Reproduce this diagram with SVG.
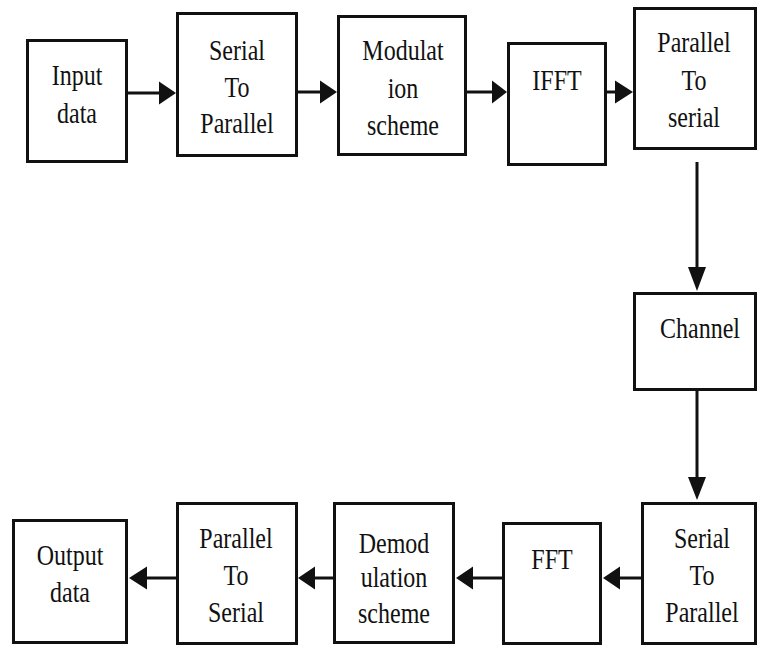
<svg xmlns="http://www.w3.org/2000/svg" width="758" height="646" viewBox="0 0 758 646">
<style>
.box{fill:#fff;stroke:#111;stroke-width:3}
.lbl{font-family:"Liberation Serif","Times New Roman",serif;font-size:30px;fill:#111;text-anchor:middle}
.ln{stroke:#111;stroke-width:3;fill:none}
.hd{fill:#111;stroke:none}
</style>
<rect width="758" height="646" fill="#fff"/>
<g id="input-data"><rect class="box" x="27.5" y="40.5" width="99" height="121"/>
<text class="lbl" transform="translate(77,0) scale(0.8,1)"><tspan x="0" y="85">Input</tspan><tspan x="0" y="123">data</tspan></text></g>
<g id="serial-to-parallel-tx"><rect class="box" x="177.5" y="13.5" width="119" height="142"/>
<text class="lbl" transform="translate(237,0) scale(0.8,1)"><tspan x="0" y="60">Serial</tspan><tspan x="0" y="97">To</tspan><tspan x="0" y="133">Parallel</tspan></text></g>
<g id="modulation"><rect class="box" x="338.5" y="16.5" width="127" height="138"/>
<text class="lbl" transform="translate(403,0) scale(0.8,1)"><tspan x="0" y="60">Modulat</tspan><tspan x="0" y="98">ion</tspan><tspan x="0" y="135">scheme</tspan></text></g>
<g id="ifft"><rect class="box" x="508.5" y="43.5" width="97" height="121"/>
<text class="lbl" transform="translate(557,0) scale(0.8,1)"><tspan x="0" y="90">IFFT</tspan></text></g>
<g id="parallel-to-serial-tx"><rect class="box" x="634.5" y="8.5" width="121" height="140"/>
<text class="lbl" transform="translate(694,0) scale(0.8,1)"><tspan x="0" y="52">Parallel</tspan><tspan x="0" y="90">To</tspan><tspan x="0" y="127">serial</tspan></text></g>
<g id="channel"><rect class="box" x="634.5" y="293.5" width="121" height="96"/>
<text class="lbl" transform="translate(700,0) scale(0.8,1)"><tspan x="0" y="338">Channel</tspan></text></g>
<g id="serial-to-parallel-rx"><rect class="box" x="642.5" y="503.5" width="113" height="140"/>
<text class="lbl" transform="translate(702,0) scale(0.8,1)"><tspan x="0" y="548">Serial</tspan><tspan x="0" y="585">To</tspan><tspan x="0" y="622">Parallel</tspan></text></g>
<g id="fft"><rect class="box" x="503.5" y="523.5" width="97" height="120"/>
<text class="lbl" transform="translate(552,0) scale(0.8,1)"><tspan x="0" y="569">FFT</tspan></text></g>
<g id="demodulation"><rect class="box" x="334.5" y="503.5" width="119" height="139"/>
<text class="lbl" transform="translate(394,0) scale(0.8,1)"><tspan x="0" y="553">Demod</tspan><tspan x="0" y="587">ulation</tspan><tspan x="0" y="623">scheme</tspan></text></g>
<g id="parallel-to-serial-rx"><rect class="box" x="177.5" y="503.5" width="119" height="140"/>
<text class="lbl" transform="translate(236,0) scale(0.8,1)"><tspan x="0" y="548">Parallel</tspan><tspan x="0" y="585">To</tspan><tspan x="0" y="622">Serial</tspan></text></g>
<g id="output-data"><rect class="box" x="13.5" y="520.5" width="113" height="122"/>
<text class="lbl" transform="translate(70,0) scale(0.8,1)"><tspan x="0" y="565">Output</tspan><tspan x="0" y="602">data</tspan></text></g>
<g id="connectors">
<line class="ln" x1="128" y1="93" x2="161" y2="93"/><polygon class="hd" points="176,93 159,81.5 159,104.5"/>
<line class="ln" x1="298" y1="92" x2="322" y2="92"/><polygon class="hd" points="337,92 320,80.5 320,103.5"/>
<line class="ln" x1="467" y1="92" x2="494" y2="92"/><polygon class="hd" points="507,92 492,80.5 492,103.5"/>
<line class="ln" x1="607" y1="92" x2="617" y2="92"/><polygon class="hd" points="633,92 615,80.5 615,103.5"/>
<line class="ln" x1="697" y1="162" x2="697" y2="270"/><polygon class="hd" points="697,291 688,267 706,267"/>
<line class="ln" x1="697" y1="391" x2="697" y2="480"/><polygon class="hd" points="697,500 688,477 706,477"/>
<line class="ln" x1="641" y1="578" x2="618" y2="578"/><polygon class="hd" points="603,578 620,566.5 620,589.5"/>
<line class="ln" x1="502" y1="578" x2="471" y2="578"/><polygon class="hd" points="456,578 473,566.5 473,589.5"/>
<line class="ln" x1="333" y1="578" x2="313" y2="578"/><polygon class="hd" points="298,578 315,566.5 315,589.5"/>
<line class="ln" x1="176" y1="578" x2="145" y2="578"/><polygon class="hd" points="129,578 147,566.5 147,589.5"/>
</g>
</svg>
